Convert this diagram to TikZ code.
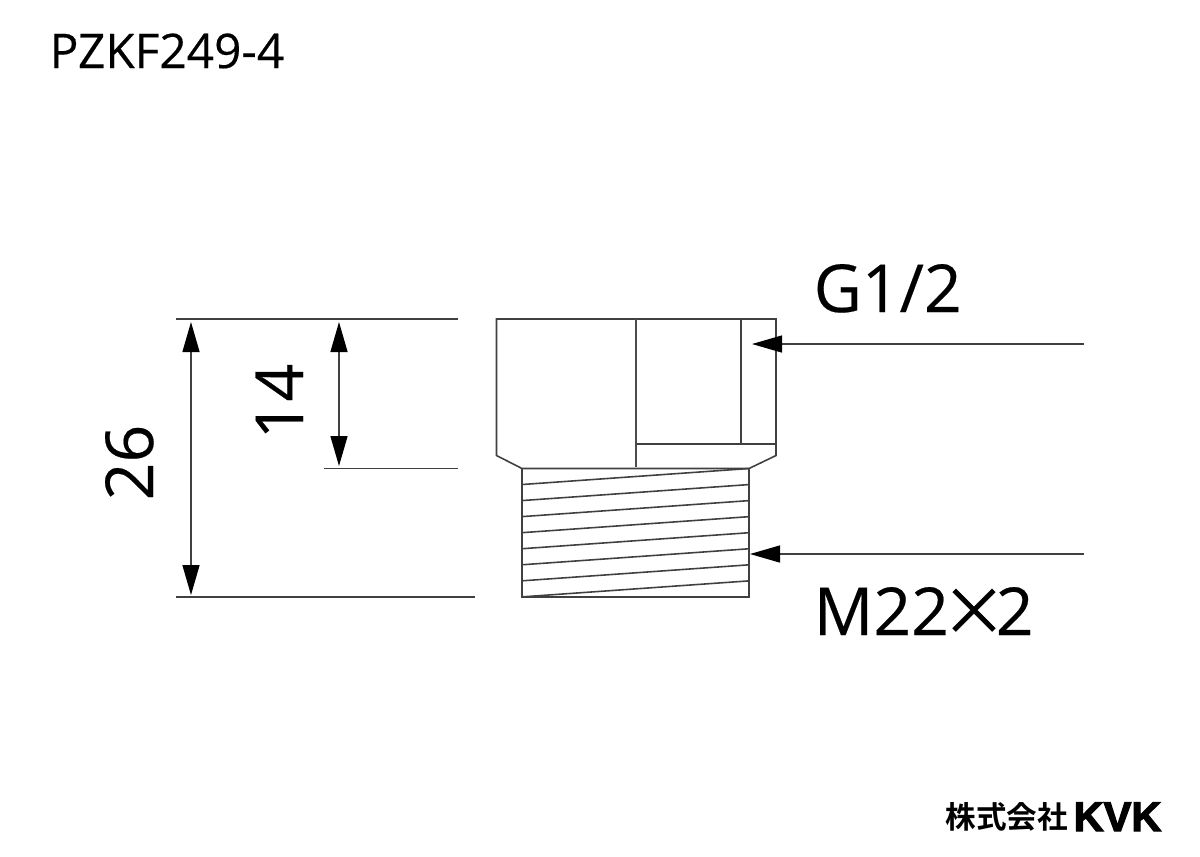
\documentclass[tikz,border=0pt]{standalone}
\usepackage{fontspec}
\setmainfont{Open Sans}[FakeBold=0.3]
\newfontfamily\cjk{Noto Sans CJK JP}[BoldFont={* Bold}]
\newfontfamily\crossfont{Noto Sans CJK JP}[FakeBold=0.6]
\newfontfamily\brandfont{Liberation Sans Bold}[FakeBold=3]
\usetikzlibrary{arrows.meta}

\newcommand{\bigtimes}{\kern-2.3pt{\crossfont ×}\kern-3.2pt}

\tikzset{
  outline/.style={draw=black!75, line width=0.45pt},
  heavyline/.style={draw=black!70, line width=0.7pt},
  dimline/.style={draw=black!75, line width=0.4pt},
  label/.style={inner sep=0pt, anchor=base west, text=black},
  big label/.style={label, font=\fontsize{18.8}{20}\selectfont},
}

\begin{document}
\begin{tikzpicture}[x=0.01cm, y=-0.01cm, >={Triangle[length=0.3cm,width=0.17cm,color=black,fill=black]}]

\useasboundingbox (0,0) rectangle (1200,856);

% body
\draw [outline] (496.5,319) -- (776,319) -- (776,455.5) -- (749,468.5) -- (522,468.5) -- (496.5,455.5) -- cycle;
\draw [heavyline] (636,319) -- (636,467);
\draw [outline] (741,319) -- (741,444);
\draw [outline] (636,444) -- (776,444);

% thread
\draw [outline] (522,468.5) rectangle (749,597);
\foreach \y in {0,...,7}
  \draw [outline] (522,484.5+\y*16.05) -- (749,468.5+\y*16.05);

% dimensions
\coordinate (top-a) at (176,319);
\coordinate (top-b) at (458,319);
\coordinate (mid-a) at (324,468.5);
\coordinate (mid-b) at (458,468.5);
\coordinate (low-a) at (176,597);
\coordinate (low-b) at (475,597);
\draw [dimline] (top-a) -- (top-b);
\draw [dimline] (mid-a) -- (mid-b);
\draw [dimline] (low-a) -- (low-b);

\coordinate (d26-a) at (191,322);
\coordinate (d26-b) at (191,595);
\coordinate (d14-a) at (339,322);
\coordinate (d14-b) at (339,466);
\draw [dimline, <->] (d26-a) -- (d26-b);
\draw [dimline, <->] (d14-a) -- (d14-b);

\coordinate (g-end) at (1084,344);
\coordinate (g-tip) at (752,344);
\coordinate (m-end) at (1084,554);
\coordinate (m-tip) at (750,554);
\draw [dimline, ->] (g-end) -- (g-tip);
\draw [dimline, ->] (m-end) -- (m-tip);

% labels
\node [label, font=\fontsize{13.6}{15}\selectfont] (code) at (49,68) {PZKF249-4};
\node [big label] (thread-g) at (813,312) {G1/2};
\node [big label] (thread-m) at (813,635) {M22\bigtimes 2};
\node [big label, rotate=90] (len-26) at (153,501) {26};
\node [big label, rotate=90] (len-14) at (303,440) {14};
\node [label, font=\cjk\bfseries\fontsize{8.7}{10}\selectfont] (maker) at (945,828) {株式会社};
\node [label, font=\brandfont\fontsize{11.8}{14}\selectfont] (brand) at (1073,831) {KVK};

\end{tikzpicture}
\end{document}
